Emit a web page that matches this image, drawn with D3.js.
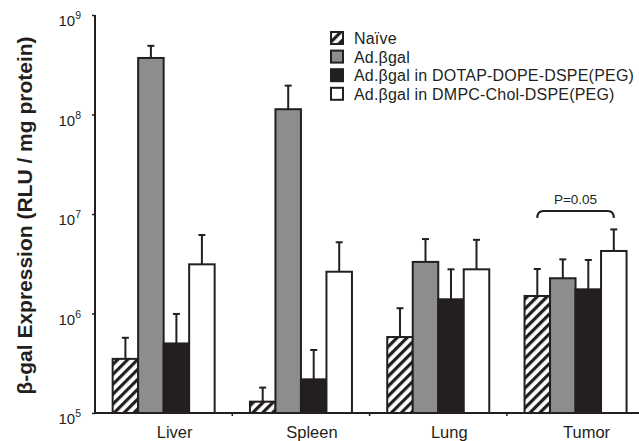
<!DOCTYPE html>
<html>
<head>
<meta charset="utf-8">
<script src="https://cdn.jsdelivr.net/npm/d3@7"></script>
<style>
  html, body { margin: 0; padding: 0; background: #fff; }
  svg { display: block; }
  text { font-family: "Liberation Sans", Arial, Helvetica, sans-serif; fill: #231f20; }
</style>
</head>
<body>
<svg id="chart" width="639" height="441"></svg>
<script>
// ---- data ----
const categories = ["Liver", "Spleen", "Lung", "Tumor"];
const seriesNames = ["Naïve", "Ad.βgal", "Ad.βgal in DOTAP-DOPE-DSPE(PEG)", "Ad.βgal in DMPC-Chol-DSPE(PEG)"];
const naiveMean  = [3.5e5, 1.3e5, 5.8e5, 1.5e6];
const naiveSD    = [2.2e5, 5.0e4, 5.5e5, 1.3e6];
const adMean     = [3.7e8, 1.13e8, 3.3e6, 2.26e6];
const adSD       = [1.2e8, 8.2e7, 2.3e6, 1.24e6];
const dotapMean  = [5.0e5, 2.18e5, 1.39e6, 1.75e6];
const dotapSD    = [4.9e5, 2.12e5, 1.39e6, 1.7e6];
const dmpcMean   = [3.12e6, 2.63e6, 2.78e6, 4.25e6];
const dmpcSD     = [3.03e6, 2.57e6, 2.72e6, 2.75e6];
const yTicks     = [1e5, 1e6, 1e7, 1e8, 1e9];
const yTickExps  = ["5", "6", "7", "8", "9"];
const yTitle     = "β-gal Expression (RLU / mg protein)";
const pLabel     = "P=0.05";
const pCategory  = "Tumor";
const pFrom      = "Naïve";
const pTo        = "Ad.βgal in DMPC-Chol-DSPE(PEG)";
const pLevel     = 1.07e7;

const means = [naiveMean, adMean, dotapMean, dmpcMean];
const sds   = [naiveSD, adSD, dotapSD, dmpcSD];
const fills = ["url(#hatch)", "#8d8d90", "#231f20", "#ffffff"];
const ink = "#231f20";

const rows = [];
categories.forEach((c, ci) => {
  seriesNames.forEach((s, si) => {
    rows.push({cat: c, series: s, si, mean: means[si][ci], sd: sds[si][ci]});
  });
});

// ---- layout ----
const svg = d3.select("#chart");
const x0 = 95, yBottom = 413, yTop = 15;
const x = d3.scaleBand().domain(categories).range([x0, x0 + 4 * 137.3]).padding(0);
const groupW = 102;
const xs = d3.scaleBand().domain(seriesNames).range([0, groupW]).padding(0);
const gOff = (x.bandwidth() - groupW) / 2;
const y = d3.scaleLog().domain([1e5, 1e9]).range([yBottom, yTop]);

// hatch pattern
const defs = svg.append("defs");
const pat = defs.append("pattern")
  .attr("id", "hatch").attr("patternUnits", "userSpaceOnUse")
  .attr("width", 7).attr("height", 7)
  .attr("patternTransform", "rotate(45)");
pat.append("rect").attr("width", 7).attr("height", 7).attr("fill", "#fff");
pat.append("rect").attr("x", 0).attr("width", 3.2).attr("height", 7).attr("fill", ink);

// bars
const bars = svg.append("g");
bars.selectAll("rect").data(rows).join("rect")
  .attr("x", d => x(d.cat) + gOff + xs(d.series))
  .attr("y", d => y(d.mean))
  .attr("width", xs.bandwidth())
  .attr("height", d => yBottom - y(d.mean))
  .attr("fill", d => fills[d.si])
  .attr("stroke", ink).attr("stroke-width", 2);

// error bars (upper only)
const eb = svg.append("g").attr("stroke", ink).attr("stroke-width", 2);
rows.forEach(d => {
  const cx = x(d.cat) + gOff + xs(d.series) + xs.bandwidth() / 2;
  eb.append("line").attr("x1", cx).attr("x2", cx)
    .attr("y1", y(d.mean)).attr("y2", y(d.mean + d.sd));
  eb.append("line").attr("x1", cx - 3.5).attr("x2", cx + 3.5)
    .attr("y1", y(d.mean + d.sd)).attr("y2", y(d.mean + d.sd));
});

// y axis
const yAxis = svg.append("g").attr("transform", `translate(${x0},0)`)
  .call(d3.axisLeft(y).tickValues(yTicks).tickSize(3).tickFormat(""));
yAxis.select(".domain").attr("stroke", ink).attr("stroke-width", 2)
  .attr("d", `M0,${yTop}V${yBottom}`);
yAxis.selectAll(".tick line").attr("stroke", ink).attr("stroke-width", 1.5);
const yl = svg.append("g");
yTicks.forEach((t, i) => {
  const tx = yl.append("text").attr("x", 81).attr("y", y(t) + 11)
    .attr("text-anchor", "end").style("font-size", "15px");
  tx.append("tspan").text("10");
  tx.append("tspan").attr("dy", -7).style("font-size", "10.5px").text(yTickExps[i]);
});

// x axis
const xAxis = svg.append("g").attr("transform", `translate(0,${yBottom})`)
  .call(d3.axisBottom(x).tickSize(0).tickFormat(d => d));
xAxis.select(".domain").attr("stroke", ink).attr("stroke-width", 2)
  .attr("d", `M${x0},0H639`);
xAxis.selectAll(".tick text")
  .attr("dx", 11).attr("y", 25).attr("dy", 0)
  .style("font-size", "16.5px").attr("fill", ink);
// separators between categories
svg.append("g").selectAll("line").data(categories.slice(1)).join("line")
  .attr("x1", d => x(d)).attr("x2", d => x(d))
  .attr("y1", yBottom).attr("y2", yBottom + 3)
  .attr("stroke", ink).attr("stroke-width", 1.5);

// y title
svg.append("text")
  .attr("transform", `translate(32,${(33 + 398) / 2}) rotate(-90)`)
  .attr("text-anchor", "middle")
  .style("font-size", "21px").style("font-weight", "bold")
  .text(yTitle);

// legend
const lg = svg.append("g").attr("transform", "translate(331,0)");
const legY = [38, 56.6, 75.2, 93.8];
seriesNames.forEach((s, i) => {
  lg.append("rect").attr("x", 0).attr("y", legY[i] - 6).attr("width", 12).attr("height", 12)
    .attr("fill", fills[i]).attr("stroke", ink).attr("stroke-width", 2);
  lg.append("text").attr("x", 23).attr("y", legY[i] + 6)
    .style("font-size", "16px").style("letter-spacing", "0.2px").text(s);
});

// significance bracket
const bx1 = x(pCategory) + gOff + xs(pFrom) + xs.bandwidth() / 2;
const bx2 = x(pCategory) + gOff + xs(pTo) + xs.bandwidth() / 2;
const by = y(pLevel);
svg.append("path")
  .attr("d", `M${bx1},${by + 7} Q${bx1},${by} ${bx1 + 6},${by} L${bx2 - 6},${by} Q${bx2},${by} ${bx2},${by + 7}`)
  .attr("fill", "none").attr("stroke", ink).attr("stroke-width", 2);
svg.append("text").attr("x", (bx1 + bx2) / 2).attr("y", by - 7)
  .attr("text-anchor", "middle").style("font-size", "13.5px").text(pLabel);
</script>
</body>
</html>
